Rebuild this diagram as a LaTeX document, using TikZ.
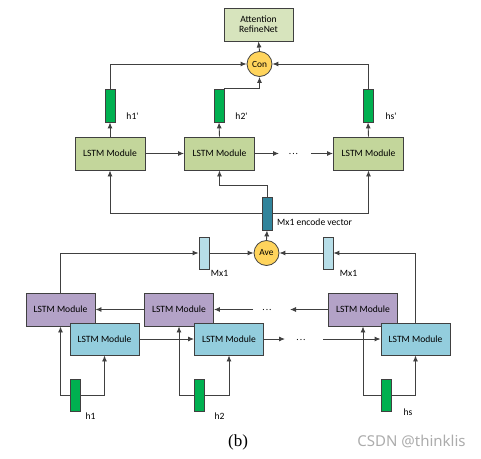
\documentclass[tikz,border=0pt]{standalone}
\usepackage{fontspec}
\setmainfont{Carlito}[Ligatures=TeXOff]
\newfontfamily\serifcap{Liberation Serif}
\newfontfamily\wmfont{Noto Sans}
\usetikzlibrary{arrows.meta}
\definecolor{topgreen}{HTML}{C3D69B}
\definecolor{attgreen}{HTML}{D7E4BD}
\definecolor{barg}{HTML}{00B050}
\definecolor{tealbar}{HTML}{31849B}
\definecolor{lblue}{HTML}{B7DEE8}
\definecolor{purp}{HTML}{B3A2C7}
\definecolor{bluebox}{HTML}{93CDDD}
\definecolor{yel}{HTML}{FFD45C}
\definecolor{edge}{HTML}{404040}
\tikzset{
  box/.style={draw=edge, line width=0.9pt, minimum width=69pt, minimum height=33pt, inner sep=0pt,
    font=\fontsize{9.6}{11}\selectfont},
  vbar/.style={draw=edge, line width=0.8pt, minimum width=10pt, minimum height=33pt, inner sep=0pt},
  circ/.style={circle, draw=edge, line width=0.8pt, fill=yel, minimum size=25pt, inner sep=0pt,
    font=\fontsize{9.4}{10}\selectfont},
  lbl/.style={font=\fontsize{9.6}{11}\selectfont, inner sep=0pt},
  arr/.style={draw=edge, line width=0.9pt, -{Latex[length=6pt,width=5pt]}},
}
\begin{document}
\begin{tikzpicture}[x=1pt,y=-1pt]
\useasboundingbox (0,0) rectangle (481,458);
% top part
\node[box, fill=attgreen, align=center] (att) at (258.5,24.5) {Attention\\[-1pt]RefineNet};
\node[circ] (con) at (259.5,64) {Con};
\node[vbar, fill=barg] (g1t) at (110,105.5) {};
\node[vbar, fill=barg] (g2t) at (219,105.5) {};
\node[vbar, fill=barg] (g3t) at (368,105.5) {};
\node[lbl] (h1p) at (132.5,116) {h1'};
\node[lbl] (h2p) at (241.5,116) {h2'};
\node[lbl] (hsp) at (391,116) {hs'};
\node[box, fill=topgreen, minimum width=70pt] (lt1) at (110,153.5) {LSTM Module};
\node[box, fill=topgreen, minimum width=70pt] (lt2) at (219.5,153.5) {LSTM Module};
\node[box, fill=topgreen, minimum width=70pt] (lt3) at (368.5,153.5) {LSTM Module};
\node[lbl] (tdots) at (293.5,154) {.\kern1pt.\kern1pt.};
\coordinate (ta) at (279,153.5);
\coordinate (tb) at (311,153.5);
\node[vbar, fill=tealbar] (enc) at (267,213.5) {};
\node[lbl, anchor=west] (encl) at (277,222.5) {Mx1 encode vector};
\coordinate (encup) at (267,185);
% middle
\node[circ] (ave) at (266.5,253) {Ave};
\node[vbar, fill=lblue, minimum height=32pt] (m1) at (204,253) {};
\node[vbar, fill=lblue, minimum height=32pt] (m2) at (328,253) {};
\node[lbl] (m1l) at (219.5,273) {Mx1};
\node[lbl] (m2l) at (348.5,273) {Mx1};
% purple boxes
\node[box, fill=purp] (p1) at (60.5,309.5) {LSTM Module};
\node[box, fill=purp] (p2) at (179,309.5) {LSTM Module};
\node[box, fill=purp] (p3) at (363,309.5) {LSTM Module};
\node[lbl] (pdots) at (267,310) {.\kern1pt.\kern1pt.};
\coordinate (pa) at (290,309.5);
\coordinate (pb) at (253,309.5);
% blue boxes
\node[box, fill=bluebox, minimum height=32pt] (b1) at (104.5,339) {LSTM Module};
\node[box, fill=bluebox, minimum height=32pt] (b2) at (229,339) {LSTM Module};
\node[box, fill=bluebox, minimum height=32pt] (b3) at (415.5,339) {LSTM Module};
\node[lbl] (bdots) at (301,340) {.\kern1pt.\kern1pt.};
\coordinate (ba) at (285,339);
\coordinate (bb) at (323,339);
% bottom green bars
\node[vbar, fill=barg, minimum height=32pt] (g1b) at (75,395) {};
\node[vbar, fill=barg, minimum height=32pt] (g2b) at (199,395) {};
\node[vbar, fill=barg, minimum height=32pt] (g3b) at (386,395) {};
\node[lbl] (h1) at (90.5,416) {h1};
\node[lbl] (h2) at (219.5,416) {h2};
\node[lbl] (hs) at (408,412) {hs};
% captions
\node[font=\serifcap\fontsize{17}{19}\selectfont, inner sep=0pt] (cap) at (238,442) {(b)};
\node[font=\wmfont\fontsize{15}{17}\selectfont, text=gray!65, inner sep=0pt] (wm) at (411.5,441) {CSDN @thinklis};
% connectors top
\draw[arr] (con.north) -- (att.south);
\draw[arr] (g1t.north) |- (con.west);
\draw[arr] (g2t.north east) -| (con.south);
\draw[arr] (g3t.north) |- (con.east);
\draw[arr] (lt1.north) -- (g1t.south);
\draw[arr] (lt2.north) -- (g2t.south);
\draw[arr] (lt3.north) -- (g3t.south);
\draw[arr] (lt1.east) -- (lt2.west);
\draw[arr] (lt2.east) -- (ta);
\draw[arr] (tb) -- (lt3.west);
\draw[arr] (enc.north) -- (encup) -| (lt2.south);
\draw[arr] (enc.west) -| (lt1.south);
\draw[arr] (enc.east) -| (lt3.south);
% connectors middle
\draw[arr] (ave.north) -- (enc.south);
\draw[arr] (m1.east) -- (ave.west);
\draw[arr] (m2.west) -- (ave.east);
\draw[arr] (p1.north) |- (m1.west);
\draw[arr] (b3.north) |- (m2.east);
% purple chain
\draw[arr] (p2.west) -- (p1.east);
\draw[arr] (p3.west) -- (pa);
\draw[arr] (pb) -- (p2.east);
% blue chain
\draw[arr] (b1.east) -- (b2.west);
\draw[arr] (b2.east) -- (ba);
\draw[arr] (bb) -- (b3.west);
% bottom inputs
\draw[arr] (g1b.west) -| (p1.south);
\draw[arr] (g1b.east) -| (b1.south);
\draw[arr] (g2b.west) -| (p2.south);
\draw[arr] (g2b.east) -| (b2.south);
\draw[arr] (g3b.west) -| (p3.south);
\draw[arr] (g3b.east) -| (b3.south);
\end{tikzpicture}
\end{document}
